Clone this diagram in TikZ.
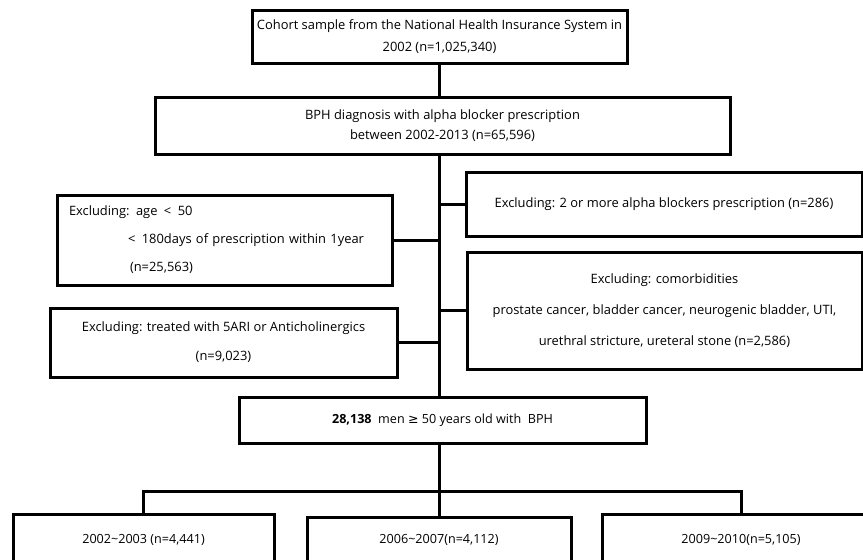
\documentclass[tikz,border=0pt]{standalone}
\usepackage{fontspec}
\setmainfont{Open Sans}
\newfontfamily\symfont{DejaVu Sans}
\usetikzlibrary{positioning, calc}

\begin{document}
\begin{tikzpicture}[
    x=1pt, y=-1pt,
    font=\fontsize{12.9}{15}\selectfont,
    box/.style={draw, line width=3pt, fill=white, align=center, inner sep=0pt},
    small_box/.style={box, font=\fontsize{12.6}{14}\selectfont},
    link/.style={line width=3pt}
]

\useasboundingbox (0,0) rectangle (863,560);
\clip (0,0) rectangle (863,560);

% MAIN COLUMN
\node[box, minimum width=375, minimum height=53] (cohort) at (439.5, 36.5)
    {\raisebox{-3pt}{Cohort sample from the National Health Insurance System in}\\[8pt] 2002 (n=1,025,340)};
\node[box, minimum width=575, minimum height=57] (bph) at (442.5, 125.5)
    {BPH diagnosis with alpha blocker prescription\\[5pt] between 2002-2013 (n=65,596)};

% EXCLUSIONS LEFT
\node[box, align=left, text width=311, inner xsep=12, minimum height=90] (exage) at (224.5, 240)
    {Excluding: age \,<\, 50\\[13pt]
     \hspace*{59pt}<\, 180days of prescription within 1year\\[13pt]
     \hspace*{61pt}(n=25,563)};
\node[box, minimum width=347, minimum height=69] (ex5ari) at (223.5, 342.5)
    {Excluding: treated with 5ARI or Anticholinergics\\[14pt] (n=9,023)};

% EXCLUSIONS RIGHT
\node[box, minimum width=396, minimum height=64] (exalpha) at (664, 204)
    {Excluding: 2 or more alpha blockers prescription (n=286)};
\node[box, minimum width=395, minimum height=117] (excomorb) at (664.5, 310.5)
    {Excluding: comorbidities\\[16pt]
     prostate cancer, bladder cancer, neurogenic bladder, UTI,\\[16pt]
     urethral stricture, ureteral stone (n=2,586)};

% STUDY POPULATION
\node[small_box, minimum width=407, minimum height=46] (men) at (442.5, 420)
    {\textbf{28,138} \ men {\symfont ≥} 50 years old with \ BPH};

% PERIODS
\node[small_box, minimum width=261, minimum height=66] (p1) at (143.5, 547) {};
\node[small_box, minimum width=264, minimum height=66] (p2) at (439, 550) {};
\node[small_box, minimum width=278, minimum height=66] (p3) at (741, 547) {};
\node[font=\fontsize{12.6}{14}\selectfont] (p1t) at (143.5, 540) {2002\textasciitilde2003 (n=4,441)};
\node[font=\fontsize{12.6}{14}\selectfont] (p2t) at (439, 540) {2006\textasciitilde2007(n=4,112)};
\node[font=\fontsize{12.6}{14}\selectfont] (p3t) at (741, 540) {2009\textasciitilde2010(n=5,105)};

% CONNECTORS
\coordinate (trunktop) at (439, 154);
\coordinate (trunkbot) at (439, 397);
\draw[link] (cohort.south -| trunktop) -- (bph.north -| trunktop);
\draw[link] (trunktop) -- (trunkbot);
\draw[link] (exage.east) -- (exage.east -| trunktop);
\draw[link] (ex5ari.east) -- (ex5ari.east -| trunktop);
\draw[link] (exalpha.west) -- (exalpha.west -| trunktop);
\draw[link] (excomorb.west) -- (excomorb.west -| trunktop);

\coordinate (branch) at (439, 491);
\draw[link] (men.south -| branch) -- (branch);
\draw[link] (p1.north) -- (p1.north |- branch) -- (p3.north |- branch) -- (p3.north);
\draw[link] (branch) -- (p2.north);

\end{tikzpicture}
\end{document}
